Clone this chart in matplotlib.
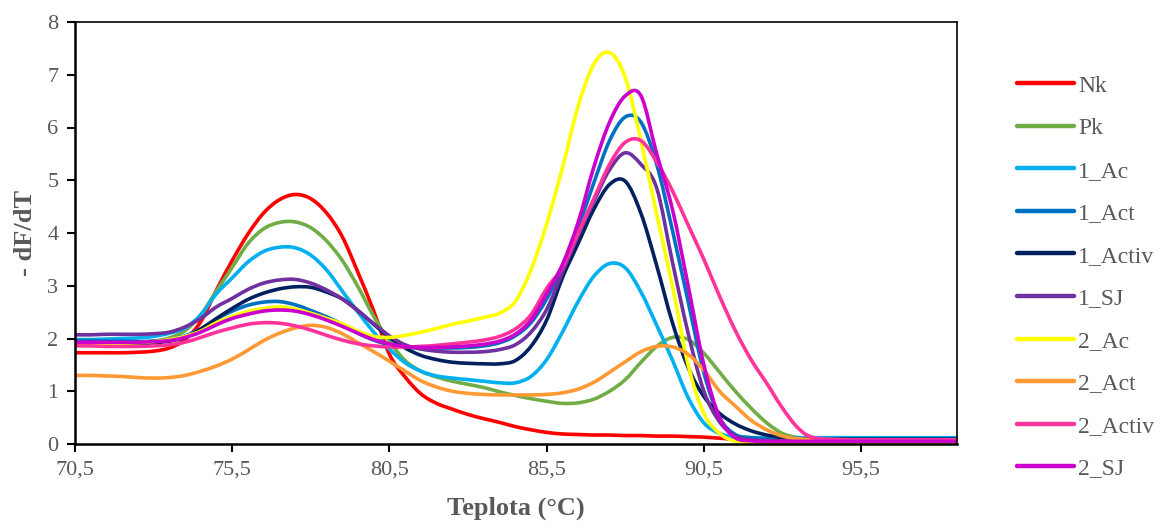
"""Melting curves (-dF/dT vs. temperature) for the ten samples."""

import matplotlib

matplotlib.use("Agg")
import matplotlib.pyplot as plt
import numpy as np
from matplotlib.lines import Line2D
from matplotlib.patches import PathPatch
from matplotlib.path import Path

temps = [70.5, 71.0, 71.5, 72.0, 72.5, 73.0, 73.5,
         74.0, 74.5, 75.0, 75.5, 76.0, 76.5, 77.0, 77.5, 78.0, 78.5,
         79.0, 79.5, 80.0, 80.5, 81.0, 81.5, 82.0, 82.5, 83.0, 83.5,
         84.0, 84.5, 85.0, 85.5, 86.0, 86.5, 87.0, 87.5, 88.0, 88.5,
         89.0, 89.5, 90.0, 90.5, 91.0, 91.5, 92.0, 92.5, 93.0, 93.5,
         94.0, 95.0, 96.0, 97.0, 98.5]

nk = [1.73, 1.73, 1.73, 1.73, 1.74, 1.76, 1.82,
      1.98, 2.32, 2.92, 3.48, 3.98, 4.38, 4.63, 4.73, 4.65, 4.38,
      3.93, 3.25, 2.52, 1.70, 1.27, 0.95, 0.77, 0.66, 0.56, 0.48,
      0.41, 0.33, 0.27, 0.22, 0.19, 0.18, 0.17, 0.17, 0.16, 0.16,
      0.15, 0.15, 0.14, 0.13, 0.11, 0.09, 0.08, 0.07, 0.06, 0.06,
      0.05, 0.05, 0.05, 0.05, 0.05]
pk = [1.92, 1.92, 1.92, 1.92, 1.93, 1.95, 2.01,
      2.15, 2.45, 2.90, 3.35, 3.80, 4.08, 4.20, 4.21, 4.10, 3.85,
      3.48, 2.98, 2.42, 1.95, 1.58, 1.38, 1.27, 1.19, 1.13, 1.07,
      0.99, 0.92, 0.86, 0.81, 0.77, 0.78, 0.85, 1.00, 1.22, 1.55,
      1.85, 2.02, 1.98, 1.72, 1.36, 1.00, 0.68, 0.40, 0.20, 0.12,
      0.11, 0.11, 0.11, 0.11, 0.11]
ac_1 = [1.98, 1.98, 1.99, 2.00, 2.01, 2.04, 2.10,
        2.20, 2.45, 2.85, 3.15, 3.45, 3.65, 3.73, 3.72, 3.58, 3.30,
        2.90, 2.50, 2.12, 1.80, 1.54, 1.38, 1.29, 1.25, 1.22, 1.19,
        1.16, 1.16, 1.28, 1.60, 2.12, 2.70, 3.18, 3.42, 3.34, 2.88,
        2.25, 1.59, 0.88, 0.40, 0.20, 0.13, 0.12, 0.12, 0.12, 0.12,
        0.12, 0.12, 0.12, 0.12, 0.12]
act_1 = [1.96, 1.96, 1.95, 1.95, 1.94, 1.95, 1.98,
         2.05, 2.18, 2.37, 2.52, 2.63, 2.69, 2.70, 2.64, 2.53, 2.41,
         2.27, 2.10, 1.97, 1.88, 1.84, 1.82, 1.82, 1.82, 1.83, 1.86,
         1.92, 2.05, 2.30, 2.75, 3.35, 4.10, 4.95, 5.75, 6.20, 6.10,
         5.30, 4.05, 2.70, 1.35, 0.50, 0.18, 0.12, 0.10, 0.10, 0.10,
         0.10, 0.10, 0.10, 0.10, 0.10]
activ_1 = [1.90, 1.90, 1.90, 1.90, 1.90, 1.92, 1.95,
           2.02, 2.18, 2.38, 2.57, 2.74, 2.86, 2.94, 2.98, 2.97, 2.88,
           2.75, 2.53, 2.27, 2.02, 1.82, 1.68, 1.60, 1.55, 1.53, 1.52,
           1.52, 1.58, 1.85, 2.35, 3.15, 3.80, 4.45, 4.92, 4.98, 4.37,
           3.38, 2.30, 1.45, 0.90, 0.58, 0.38, 0.25, 0.17, 0.12, 0.10,
           0.09, 0.09, 0.09, 0.09, 0.09]
sj_1 = [2.07, 2.07, 2.08, 2.08, 2.08, 2.09, 2.12,
        2.22, 2.38, 2.60, 2.76, 2.93, 3.05, 3.11, 3.12, 3.05, 2.92,
        2.75, 2.52, 2.28, 2.05, 1.88, 1.80, 1.76, 1.74, 1.74, 1.75,
        1.79, 1.88, 2.12, 2.55, 3.25, 3.95, 4.60, 5.20, 5.52, 5.30,
        4.85, 3.45, 2.10, 1.00, 0.42, 0.15, 0.08, 0.06, 0.06, 0.06,
        0.06, 0.06, 0.06, 0.06, 0.06]
ac_2 = [1.89, 1.89, 1.90, 1.91, 1.92, 1.94, 1.98,
        2.04, 2.14, 2.30, 2.42, 2.51, 2.57, 2.60, 2.56, 2.48, 2.38,
        2.28, 2.14, 2.04, 2.02, 2.06, 2.12, 2.19, 2.27, 2.33, 2.40,
        2.48, 2.70, 3.30, 4.17, 5.23, 6.40, 7.20, 7.42, 6.95, 5.75,
        4.35, 3.00, 1.50, 0.58, 0.20, 0.05, 0.03, 0.03, 0.03, 0.03,
        0.03, 0.03, 0.03, 0.03, 0.03]
act_2 = [1.30, 1.30, 1.29, 1.28, 1.26, 1.25, 1.26,
         1.30, 1.38, 1.48, 1.61, 1.78, 1.96, 2.10, 2.20, 2.25, 2.21,
         2.09, 1.92, 1.75, 1.57, 1.38, 1.20, 1.08, 1.00, 0.96, 0.94,
         0.93, 0.93, 0.93, 0.94, 0.97, 1.04, 1.17, 1.36, 1.56, 1.75,
         1.85, 1.84, 1.70, 1.40, 1.00, 0.72, 0.45, 0.27, 0.15, 0.10,
         0.09, 0.08, 0.08, 0.08, 0.08]
activ_2 = [1.86, 1.86, 1.85, 1.85, 1.85, 1.86, 1.88,
           1.93, 2.02, 2.12, 2.20, 2.27, 2.30, 2.29, 2.24, 2.16, 2.06,
           1.97, 1.90, 1.86, 1.84, 1.84, 1.85, 1.87, 1.90, 1.93, 1.97,
           2.04, 2.18, 2.45, 2.95, 3.35, 4.00, 4.65, 5.30, 5.72, 5.75,
           5.35, 4.80, 4.15, 3.50, 2.80, 2.15, 1.60, 1.15, 0.68, 0.30,
           0.12, 0.08, 0.08, 0.08, 0.08]
sj_2 = [1.93, 1.93, 1.93, 1.93, 1.93, 1.94, 1.96,
        2.02, 2.12, 2.26, 2.38, 2.46, 2.52, 2.54, 2.52, 2.45, 2.35,
        2.23, 2.10, 1.98, 1.90, 1.85, 1.83, 1.83, 1.84, 1.86, 1.89,
        1.95, 2.08, 2.35, 2.85, 3.40, 4.20, 5.25, 6.10, 6.60, 6.60,
        5.50, 4.45, 3.00, 1.50, 0.50, 0.12, 0.06, 0.05, 0.05, 0.05,
        0.05, 0.05, 0.05, 0.05, 0.05]

labels = ["Nk", "Pk", "1_Ac", "1_Act", "1_Activ", "1_SJ",
          "2_Ac", "2_Act", "2_Activ", "2_SJ"]
series = [nk, pk, ac_1, act_1, activ_1, sj_1, ac_2, act_2, activ_2, sj_2]
colors = ["#FF0000", "#70AD47", "#00B0F0", "#0070C0", "#002060",
          "#7030A0", "#FFFF00", "#FF9933", "#FF3399", "#CC00CC"]

x_ticks = [70.5, 75.5, 80.5, 85.5, 90.5, 95.5]
TEXT_GREY = "#595959"


def smooth_path(xs, ys):
    # Excel-like smoothed line: cubic Bezier through every point
    pts = np.column_stack([xs, ys]).astype(float)
    verts = [pts[0]]
    codes = [Path.MOVETO]
    n = len(pts)
    for i in range(n - 1):
        p0 = pts[i - 1] if i > 0 else pts[i]
        p1, p2 = pts[i], pts[i + 1]
        p3 = pts[i + 2] if i + 2 < n else pts[i + 1]
        verts += [p1 + (p2 - p0) / 6.0, p2 - (p3 - p1) / 6.0, p2]
        codes += [Path.CURVE4] * 3
    return Path(verts, codes)


def main() -> None:
    plt.rcParams["font.family"] = ["Liberation Serif", "DejaVu Serif"]

    fig = plt.figure(figsize=(11.61, 5.25), dpi=100)
    ax = fig.add_axes([75 / 1161, 1 - 444 / 525, 882 / 1161, 422 / 525])

    handles = []
    for label, values, color in zip(labels, series, colors):
        patch = PathPatch(smooth_path(temps, values), facecolor="none",
                          edgecolor=color, lw=2.6, capstyle="round",
                          joinstyle="round")
        ax.add_patch(patch)
        handles.append(Line2D([], [], color=color, lw=3.2,
                              solid_capstyle="round", label=label))

    ax.set_xlim(70.5, 98.55)
    ax.set_ylim(0, 8)
    ax.set_xticks(x_ticks, [f"{t:.1f}".replace(".", ",") for t in x_ticks])
    ax.set_yticks(range(9))
    ax.tick_params(direction="out", length=6, width=1.5, labelsize=16,
                   labelcolor=TEXT_GREY, pad=6)
    for side, spine in ax.spines.items():
        spine.set_linewidth(1.8 if side in ("left", "bottom") else 1.2)
        spine.set_color("black")

    ax.set_xlabel("Teplota (°C)", fontsize=19, fontweight="bold",
                  color=TEXT_GREY, labelpad=12)
    ax.set_ylabel("- dF/dT", fontsize=19, fontweight="bold",
                  color=TEXT_GREY, labelpad=7)

    fig.legend(handles=handles, loc="upper left",
               bbox_to_anchor=(1017 / 1161, 1 - 75 / 525), frameon=False,
               fontsize=17, labelcolor=TEXT_GREY, handlelength=2.4,
               handletextpad=0.2, labelspacing=0.89, borderpad=0,
               borderaxespad=0)

    fig.savefig("out.png", dpi=100)
    plt.close(fig)


if __name__ == "__main__":
    main()
